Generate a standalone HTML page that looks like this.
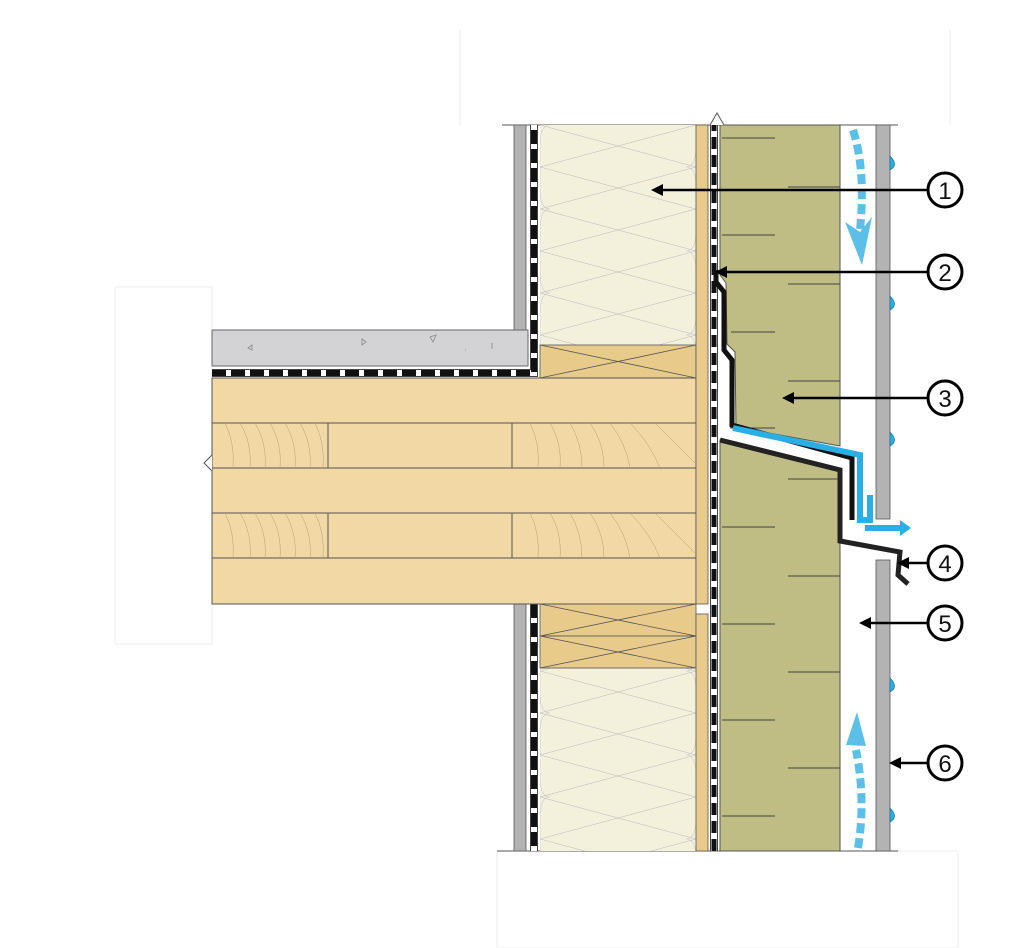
<!DOCTYPE html>
<html><head><meta charset="utf-8"><style>html,body{margin:0;background:#fff}svg{display:block}</style></head>
<body>
<svg width="1024" height="948" viewBox="0 0 1024 948" xmlns="http://www.w3.org/2000/svg" font-family="Liberation Sans, sans-serif">
<defs>
<pattern id="ins" width="156" height="84" patternUnits="userSpaceOnUse" x="540" y="125">
<path d="M0 0 L156 42 L0 84 M156 0 L0 42 L156 84" stroke="#bbb" stroke-width="0.6" fill="none"/>
<path d="M10 0 Q0 0 0 20 V64 Q0 84 10 84 M146 42 Q156 42 156 62 V84 M146 42 Q156 42 156 22 V0" stroke="#ccc" stroke-width="0.6" fill="none"/>
</pattern>
</defs>
<path d="M460 30 V125 M950 30 V125" stroke="#eee"/>
<rect x="115" y="287" width="97" height="357" fill="none" stroke="#eee"/>
<rect x="497" y="851" width="461" height="97" fill="none" stroke="#eee"/>
<line x1="502" y1="125" x2="898" y2="125" stroke="#555"/>
<line x1="497" y1="851" x2="898" y2="851" stroke="#555"/>
<rect x="514" y="125" width="12" height="205" fill="#b3b3b3" stroke="#555" stroke-width="0.8"/>
<rect x="514" y="604" width="12" height="247" fill="#b3b3b3" stroke="#555" stroke-width="0.8"/>
<rect x="212" y="330" width="316" height="36" fill="#d3d3d5" stroke="#666"/>
<g fill="none" stroke="#888" stroke-width="0.8"><path d="M252 345 l-4 3 4 2z M362 339 l4 3-4 3z M430 337 l6-2-3 7z M465 350 l1 0 M492 343 v6"/></g>
<path d="M212 373 H534 V125" fill="none" stroke="#444" stroke-width="8"/>
<path d="M212 373 H534 V125" fill="none" stroke="#fff" stroke-width="6"/>
<path d="M212 373 H534 V125" fill="none" stroke="#111" stroke-width="6" stroke-dasharray="14 5"/>
<path d="M534 604 V851" fill="none" stroke="#444" stroke-width="8"/>
<path d="M534 604 V851" fill="none" stroke="#fff" stroke-width="6"/>
<path d="M534 604 V851" fill="none" stroke="#111" stroke-width="6" stroke-dasharray="14 5"/>
<rect x="540" y="125" width="156" height="220" fill="#f3f1dc"/>
<rect x="540" y="125" width="156" height="220" fill="url(#ins)"/>
<rect x="540" y="668" width="156" height="183" fill="#f3f1dc"/>
<rect x="540" y="668" width="156" height="183" fill="url(#ins)"/>
<g fill="#e8cb8b" stroke="#555" stroke-width="0.8">
<rect x="540" y="345" width="156" height="33"/><path d="M540 345 L696 378 M696 345 L540 378" fill="none"/>
<rect x="540" y="604" width="156" height="32"/><path d="M540 604 L696 636 M696 604 L540 636" fill="none"/>
<rect x="540" y="636" width="156" height="32"/><path d="M540 636 L696 668 M696 636 L540 668" fill="none"/>
</g>
<g stroke="#555" stroke-width="1" fill="#f2d8a5">
<rect x="212" y="378" width="484" height="45"/>
<rect x="212" y="423" width="116" height="45"/><rect x="328" y="423" width="184" height="45"/><rect x="512" y="423" width="184" height="45"/>
<rect x="212" y="468" width="484" height="45"/>
<rect x="212" y="513" width="116" height="45"/><rect x="328" y="513" width="184" height="45"/><rect x="512" y="513" width="184" height="45"/>
<rect x="212" y="558" width="484" height="46"/>
</g>
<g stroke="#b9a070" stroke-width="0.5" fill="none">
<path d="M225 423 q10 20 8 45 M240 423 q12 20 10 45 M255 423 q12 20 10 45 M270 423 q12 20 10 45 M285 423 q12 20 10 45 M300 423 q12 20 10 45 M315 423 q10 20 8 45"/>
<path d="M530 423 q10 20 8 45 M550 423 q12 20 10 45 M570 423 q12 20 12 45 M590 423 q14 20 14 45 M610 423 q16 20 20 45 M630 423 q20 20 30 45 M655 423 q20 20 40 40"/>
<path d="M225 513 q10 20 8 45 M240 513 q12 20 10 45 M255 513 q12 20 10 45 M270 513 q12 20 10 45 M285 513 q12 20 10 45 M300 513 q12 20 10 45 M315 513 q10 20 8 45"/>
<path d="M530 513 q10 20 8 45 M550 513 q12 20 10 45 M570 513 q12 20 12 45 M590 513 q14 20 14 45 M610 513 q16 20 20 45 M630 513 q20 20 30 45 M655 513 q20 20 40 40"/>
</g>
<path d="M212 455 l-8 8 8 8" fill="#fff" stroke="#555"/>
<rect x="696" y="125" width="12" height="479" fill="#e8cb8b" stroke="#555" stroke-width="0.8"/>
<rect x="696" y="614" width="12" height="237" fill="#e8cb8b" stroke="#555" stroke-width="0.8"/>
<path d="M720 125 H840 V446 L736 427 L735 352 L727 344 L726 283 L720 275Z" fill="#bfbd84" stroke="#555"/>
<path d="M720 440 L840 470 V851 H720Z" fill="#bfbd84" stroke="#555"/>
<g stroke="#444" stroke-width="1">
<path d="M722 138 H775 M788 187 H840 M722 235 H775 M788 284 H840 M731 332 H775 M788 381 H840 M730 428 H775"/>
<path d="M788 479 H840 M722 527 H775 M788 576 H840 M722 624 H775 M788 672 H840 M722 720 H775 M788 768 H840 M722 816 H775"/>
</g>
<path d="M714 851 V125" stroke="#444" stroke-width="8"/>
<path d="M714 851 V125" stroke="#fff" stroke-width="6"/>
<path d="M714 851 V125" stroke="#111" stroke-width="5" stroke-dasharray="12 6"/>
<path d="M710 125 L717 113 L724 125" fill="#fff" stroke="#555"/>
<path d="M716 270 L716 282 L724 292 V350 L732 360 V425 L852 458 V520" fill="none" stroke="#111" stroke-width="5"/>
<path d="M720 440 L840 470 V541 L900 552 L898 575 L908 584" fill="none" stroke="#222" stroke-width="5"/>
<path d="M733 428 L860 455 V520 H870 V495" fill="none" stroke="#29aee6" stroke-width="6"/>
<path d="M865 528 H903" fill="none" stroke="#29aee6" stroke-width="6"/>
<path d="M900 520 L911 528 L900 536Z" fill="#29aee6"/>
<rect x="876" y="125" width="14" height="394" fill="#b3b3b3" stroke="#555" stroke-width="0.8"/>
<rect x="876" y="560" width="14" height="291" fill="#b3b3b3" stroke="#555" stroke-width="0.8"/>
<g fill="#29aee6" stroke="#1c6e96" stroke-width="0.7">
<path d="M890 156 q9 9 0 14z"/><path d="M890 296 q9 9 0 14z"/><path d="M890 432 q9 9 0 14z"/><path d="M890 678 q9 9 0 14z"/><path d="M890 808 q9 9 0 14z"/>
</g>
<path d="M853 130 Q866 170 860 230" fill="none" stroke="#5bbfe8" stroke-width="8" stroke-dasharray="10 5"/>
<path d="M845 222 L862 265 L872 217 L860 232Z" fill="#5bbfe8"/>
<path d="M858 848 Q866 800 856 750" fill="none" stroke="#5bbfe8" stroke-width="8" stroke-dasharray="10 5"/>
<path d="M846 745 L857 712 L866 746Z" fill="#5bbfe8"/>
<g stroke="#000" stroke-width="2.5" fill="none">
<line x1="662" y1="190" x2="928" y2="190"/><line x1="726" y1="272" x2="928" y2="272"/>
<line x1="793" y1="398" x2="928" y2="398"/><line x1="908" y1="563" x2="928" y2="563"/>
<line x1="870" y1="623" x2="928" y2="623"/><line x1="895" y1="763" x2="928" y2="763"/>
</g>
<g fill="#000">
<path d="M651 190 l12 -6 v12z"/><path d="M715 272 l12 -6 v12z"/><path d="M782 398 l12 -6 v12z"/>
<path d="M897 563 l12 -6 v12z"/><path d="M859 623 l12 -6 v12z"/><path d="M889 763 l12 -6 v12z"/>
</g>
<g fill="#fff" stroke="#000" stroke-width="3">
<circle cx="945" cy="190" r="17"/><circle cx="945" cy="272" r="17"/><circle cx="945" cy="398" r="17"/>
<circle cx="945" cy="563" r="17"/><circle cx="945" cy="623" r="17"/><circle cx="945" cy="763" r="17"/>
</g>
<g font-size="24" text-anchor="middle" fill="#111">
<text x="945" y="199">1</text><text x="945" y="281">2</text><text x="945" y="407">3</text>
<text x="945" y="572">4</text><text x="945" y="632">5</text><text x="945" y="772">6</text>
</g>
</svg>
</body></html>
